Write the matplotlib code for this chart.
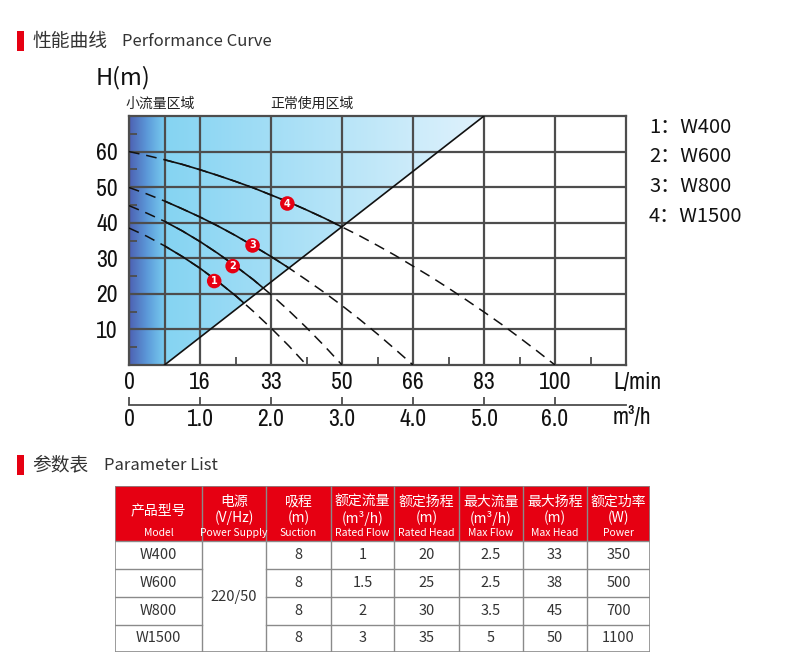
import numpy as np
import matplotlib
matplotlib.use('Agg')
import matplotlib.pyplot as plt
from matplotlib import transforms, font_manager
from matplotlib.patches import Polygon, Rectangle

plt.rcParams['font.family'] = ['Noto Sans CJK SC', 'DejaVu Sans']

# pick a condensed face for the axis numbers if one is installed
_names = {(f.name, f.stretch) for f in font_manager.fontManager.ttflist}
NUM_FONT = {'family': ['Liberation Sans', 'DejaVu Sans'], 'fontsize': 15.5}
for name, stretch in sorted(_names):
    if 'Narrow' in name or 'Condensed' in name or stretch in ('condensed', 'semi-condensed'):
        NUM_FONT = {'family': [name, 'DejaVu Sans'], 'fontsize': 17, 'fontstretch': stretch}
        break

# --- curve data, flow in m3/h, head in m ---
flow_w400 = [0, 0.25, 0.5, 0.75, 1.0, 1.25, 1.5, 1.75, 2.0, 2.25, 2.5]
head_w400 = [38.5, 36.2, 33.5, 30.5, 27.2, 23.5, 19.5, 15.1, 10.4, 5.4, 0]

flow_w600 = [0, 0.25, 0.5, 0.75, 1.0, 1.25, 1.5, 1.75, 2.0, 2.25, 2.5, 2.75, 3.0]
head_w600 = [44.8, 42.7, 40.4, 37.7, 34.7, 31.4, 27.8, 24.0, 19.8, 15.3, 10.5, 5.4, 0]

flow_w800 = [0, 0.25, 0.5, 0.75, 1.0, 1.25, 1.5, 1.75, 2.0, 2.25, 2.5, 2.75,
             3.0, 3.25, 3.5, 3.75, 4.0]
head_w800 = [49.9, 48.1, 46.1, 43.9, 41.6, 39.1, 36.4, 33.5, 30.5, 27.3, 23.9, 20.4,
             16.7, 12.8, 8.7, 4.4, 0]

flow_w1500 = [0, 0.25, 0.5, 0.75, 1.0, 1.25, 1.5, 1.75, 2.0, 2.25, 2.5, 2.75, 3.0,
              3.25, 3.5, 3.75, 4.0, 4.25, 4.5, 4.75, 5.0, 5.25, 5.5, 5.75, 6.0]
head_w1500 = [60, 58.9, 57.7, 56.4, 54.9, 53.3, 51.6, 49.8, 47.8, 45.8, 43.6, 41.3, 38.8,
              36.3, 33.6, 30.8, 27.8, 24.8, 21.6, 18.3, 14.9, 11.4, 7.7, 3.9, 0]

marker_flow = [1.2, 1.46, 1.74, 2.23]
marker_head = [23.6, 27.8, 33.6, 45.4]
marker_labels = ['1', '2', '3', '4']

small_flow_limit = 0.5
boundary_flow = [0.5, 5.0]
boundary_head = [0, 70]

lpm_labels = ['0', '16', '33', '50', '66', '83', '100']
m3h_labels = ['0', '1.0', '2.0', '3.0', '4.0', '5.0', '6.0']
head_ticks = [10, 20, 30, 40, 50, 60]
legend_labels = ['1：W400', '2：W600', '3：W800', '4：W1500']

# --- table data ---
header_cn = ['产品型号', '电源', '吸程', '额定流量', '额定扬程', '最大流量', '最大扬程', '额定功率']
header_unit = ['', '(V/Hz)', '(m)', '(m³/h)', '(m)', '(m³/h)', '(m)', '(W)']
header_en = ['Model', 'Power Supply', 'Suction', 'Rated Flow', 'Rated Head',
             'Max Flow', 'Max Head', 'Power']
models = ['W400', 'W600', 'W800', 'W1500']
power_supply = '220/50'
suction = ['8', '8', '8', '8']
rated_flow = ['1', '1.5', '2', '3']
rated_head = ['20', '25', '30', '35']
max_flow = ['2.5', '2.5', '3.5', '5']
max_head = ['33', '38', '45', '50']
rated_power = ['350', '500', '700', '1100']

W, H = 800, 663
RED = '#e60012'
GRID = '#4d4d4d'

fig = plt.figure(figsize=(8, 6.63), dpi=100)


def fx(px):
    return px / W


def fy(py):
    return 1 - py / H


# section headings
for y0, cn, en, en_x in [(41, '性能曲线', 'Performance Curve', 122),
                         (465, '参数表', 'Parameter List', 104)]:
    fig.add_artist(Rectangle((fx(17), fy(y0 + 10)), 7 / W, 20 / H,
                             transform=fig.transFigure, color=RED, lw=0))
    fig.text(fx(32), fy(y0), cn, fontsize=13.5, color='#333333', va='center')
    fig.text(fx(en_x), fy(y0), en, fontsize=12, color='#333333', va='center')

# --- chart ---
ax = fig.add_axes([fx(129), fy(365), 497 / W, 249 / H])
ax.set_xlim(0, 7)
ax.set_ylim(0, 70)

# gradient fill of the usage region
xs = np.linspace(0, 7, 700)
r = np.where(xs < 0.5, np.interp(xs, [0, 0.25, 0.5], [0.30, 0.36, 0.47]),
             np.interp(xs, [0.5, 5.0], [0.52, 0.88]))
g = np.where(xs < 0.5, np.interp(xs, [0, 0.25, 0.5], [0.38, 0.60, 0.80]),
             np.interp(xs, [0.5, 5.0], [0.83, 0.95]))
b = np.where(xs < 0.5, np.interp(xs, [0, 0.25, 0.5], [0.70, 0.85, 0.94]),
             np.interp(xs, [0.5, 5.0], [0.95, 0.99]))
grad = np.dstack([r, g, b])
im = ax.imshow(grad, extent=[0, 7, 0, 70], aspect='auto', zorder=0, interpolation='bilinear')
region = Polygon([(0, 0), (small_flow_limit, 0), (boundary_flow[1], boundary_head[1]), (0, 70)],
                 transform=ax.transData)
im.set_clip_path(region)

# grid and ticks
ax.set_xticks(range(7), lpm_labels, **NUM_FONT)
ax.set_yticks(head_ticks, [str(v) for v in head_ticks], **NUM_FONT)
ax.set_xticks(np.arange(1.5, 7, 1.0), minor=True)
ax.set_yticks(np.arange(5, 70, 10), minor=True)
ax.grid(True, which='major', color=GRID, lw=1.6)
ax.axvline(small_flow_limit, color=GRID, lw=1.6, zorder=1.5)
ax.tick_params(which='major', length=0, pad=5, colors='#111111')
ax.tick_params(axis='y', which='major', pad=8)
ax.tick_params(which='minor', direction='in', length=6, width=1.3, color=GRID)
for s in ax.spines.values():
    s.set_color(GRID)
    s.set_linewidth(1.6)

# boundary of normal usage area
ax.plot(boundary_flow, boundary_head, color='#111111', lw=1.2, zorder=3)

solid_clip = Polygon([(small_flow_limit, 0), (small_flow_limit, 70),
                      (boundary_flow[1], boundary_head[1])], transform=ax.transData)
for fl, hd in [(flow_w400, head_w400), (flow_w600, head_w600),
               (flow_w800, head_w800), (flow_w1500, head_w1500)]:
    ax.plot(fl, hd, color='#111111', lw=1.1, ls=(0, (7, 4.5)), zorder=3)
    ln, = ax.plot(fl, hd, color='#111111', lw=1.2, zorder=3.1)
    ln.set_clip_path(solid_clip)

ax.scatter(marker_flow, marker_head, s=110, color=RED, zorder=5, edgecolors='none')
for mx, my, lab in zip(marker_flow, marker_head, marker_labels):
    ax.text(mx, my, lab, color='white', fontsize=7, fontweight='bold',
            ha='center', va='center', zorder=6, family=['DejaVu Sans'])

# second flow scale in m3/h
sec = ax.secondary_xaxis(-40 / 249)
sec.set_xticks(range(7), m3h_labels, **NUM_FONT)
sec.tick_params(direction='in', length=6, width=1.3, color=GRID, pad=3, labelcolor='#111111')
sec.spines['bottom'].set_color(GRID)
sec.spines['bottom'].set_linewidth(1.3)

trans = transforms.blended_transform_factory(ax.transData, fig.transFigure)
ax.text((613 - 129) / 71, fy(383), 'L/min', transform=trans,
        va='center', ha='left', color='#111111', **NUM_FONT)
ax.text((613 - 129) / 71, fy(417), 'm³/h', transform=trans,
        va='center', ha='left', color='#111111', **NUM_FONT)

fig.text(fx(96), fy(78), 'H(m)', fontsize=17, va='center', color='#111111')
fig.text(fx(125), fy(104), '小流量区域', fontsize=10, va='center', color='#222222')
fig.text(fx(270), fy(104), '正常使用区域', fontsize=10, va='center', color='#222222')

for i, lab in enumerate(legend_labels):
    fig.text(fx(649), fy(127 + 29.7 * i), lab, fontsize=14.5, va='center', color='#111111')

# --- parameter table ---
col_x = [115, 202, 266, 331, 394, 459, 523, 587, 650]
row_y = [486, 541, 569, 597, 625, 652]
tax = fig.add_axes([fx(col_x[0]), fy(row_y[-1]), (col_x[-1] - col_x[0]) / W,
                    (row_y[-1] - row_y[0]) / H])
tax.set_xlim(col_x[0], col_x[-1])
tax.set_ylim(row_y[-1], row_y[0])
tax.axis('off')

LINE = '#8a8a8a'
tax.add_patch(Rectangle((col_x[0], row_y[0]), col_x[-1] - col_x[0], row_y[1] - row_y[0],
                        color=RED, lw=0))
for cx in col_x[1:-1]:
    tax.plot([cx, cx], [row_y[0], row_y[-1]], color=LINE, lw=1)
for ry in row_y[2:-1]:
    tax.plot([col_x[0], col_x[1]], [ry, ry], color=LINE, lw=1)
    tax.plot([col_x[2], col_x[-1]], [ry, ry], color=LINE, lw=1)
tax.plot([col_x[0], col_x[-1]], [row_y[1], row_y[1]], color=LINE, lw=1)
tax.add_patch(Rectangle((col_x[0], row_y[0]), col_x[-1] - col_x[0], row_y[-1] - row_y[0],
                        fill=False, ec=LINE, lw=1.2))

for i in range(8):
    cx = (col_x[i] + col_x[i + 1]) / 2
    if header_unit[i]:
        tax.text(cx, 502, header_cn[i], color='white', fontsize=10, ha='center', va='center')
        tax.text(cx, 518, header_unit[i], color='white', fontsize=10, ha='center', va='center')
    else:
        tax.text(cx, 510, header_cn[i], color='white', fontsize=10, ha='center', va='center')
    tax.text(cx, 533, header_en[i], color='white', fontsize=7.5, ha='center', va='center')

columns = [models, None, suction, rated_flow, rated_head, max_flow, max_head, rated_power]
for i, vals in enumerate(columns):
    cx = (col_x[i] + col_x[i + 1]) / 2
    if vals is None:
        tax.text(cx, (row_y[1] + row_y[-1]) / 2, power_supply, fontsize=10.5,
                 color='#333333', ha='center', va='center')
        continue
    for j, v in enumerate(vals):
        cy = (row_y[j + 1] + row_y[j + 2]) / 2
        tax.text(cx, cy, v, fontsize=10.5, color='#333333', ha='center', va='center')

fig.savefig('out.png', dpi=100)
